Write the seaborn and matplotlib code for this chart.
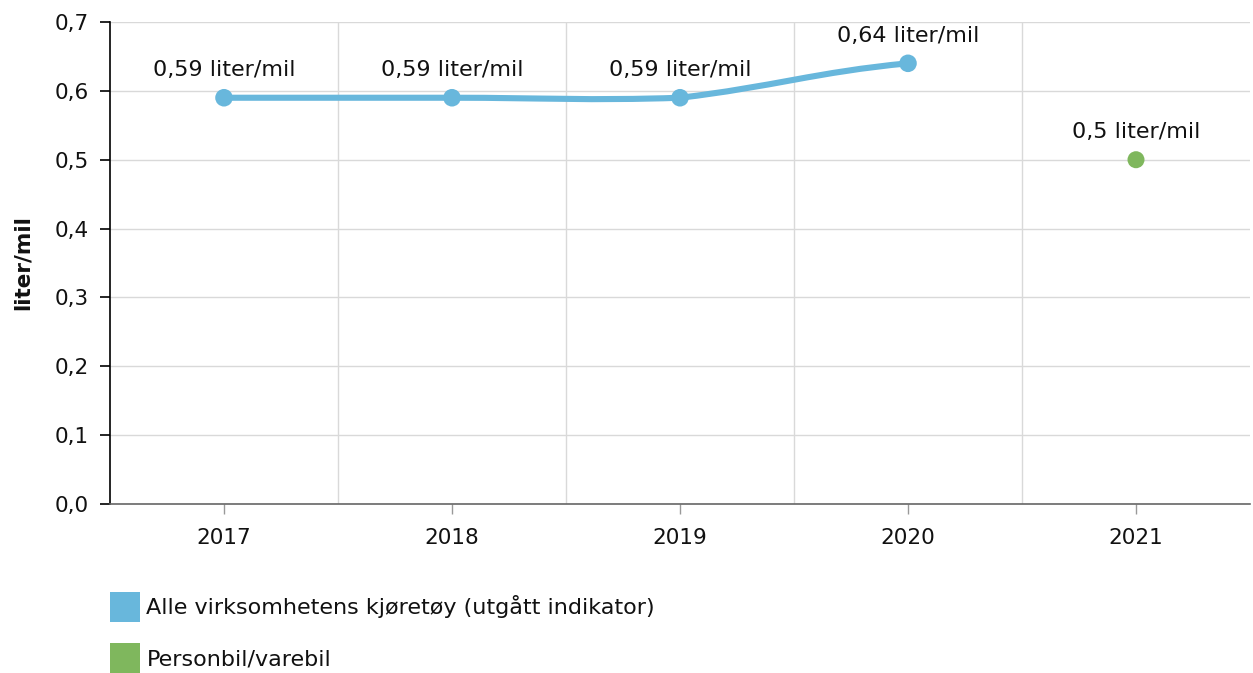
import numpy as np
import matplotlib
matplotlib.use("Agg")
import matplotlib.pyplot as plt
import seaborn as sns
from matplotlib.path import Path
from matplotlib.patches import PathPatch, Patch
from matplotlib.ticker import FixedLocator

# data
years = ["2017", "2018", "2019", "2020", "2021"]
alle_years = ["2017", "2018", "2019", "2020"]
alle_values = [0.59, 0.59, 0.59, 0.64]
person_years = ["2021"]
person_values = [0.5]

blue = "#68b7dc"
green = "#7fb75d"
fs = 15.5

sns.set_theme(style="white")
plt.rcParams["font.family"] = ["DejaVu Sans"]

fig = plt.figure(figsize=(12.53, 6.73), dpi=100)
ax = fig.add_axes([110 / 1253, 1 - 504 / 673, (1250 - 110) / 1253, (504 - 22) / 673])

xa = np.array([years.index(y) for y in alle_years], dtype=float)
ya = np.array(alle_values, dtype=float)

# smooth spline (highcharts-like)
def spline_path(xs, ys, smoothing=1.5):
    denom = smoothing + 1
    n = len(xs)
    left = [None] * n
    right = [None] * n
    for i in range(1, n - 1):
        lx = (smoothing * xs[i] + xs[i - 1]) / denom
        ly = (smoothing * ys[i] + ys[i - 1]) / denom
        rx = (smoothing * xs[i] + xs[i + 1]) / denom
        ry = (smoothing * ys[i] + ys[i + 1]) / denom
        corr = ((ry - ly) * (rx - xs[i])) / (rx - lx) + ys[i] - ry
        ly += corr * 0.45
        ry += corr * 0.45
        left[i] = (lx, ly)
        right[i] = (rx, ry)
    # end points
    dx0 = (xs[1] - xs[0]) / denom
    right[0] = (xs[0] + dx0, ys[0])
    dxn = (xs[-1] - xs[-2]) / denom
    left[-1] = (xs[-1] - dxn, ys[-1] - 0.25 * (ys[-1] - ys[-2]))
    verts = [(xs[0], ys[0])]
    codes = [Path.MOVETO]
    for i in range(1, n):
        verts += [right[i - 1], left[i], (xs[i], ys[i])]
        codes += [Path.CURVE4] * 3
    return Path(verts, codes)

ax.add_patch(PathPatch(spline_path(xa, ya), fill=False, edgecolor=blue,
                       lw=4.4, capstyle="round", joinstyle="round", zorder=3))

sns.scatterplot(x=xa, y=ya, color=blue, s=160, edgecolor="none", zorder=4, ax=ax, legend=False)
xp = np.array([years.index(y) for y in person_years], dtype=float)
sns.scatterplot(x=xp, y=person_values, color=green, s=150, edgecolor="none", zorder=4, ax=ax, legend=False)

for x, v in list(zip(xa, ya)) + list(zip(xp, person_values)):
    ax.annotate(f"{v:g} liter/mil".replace(".", ","), (x, v), xytext=(0, 20),
                textcoords="offset points", ha="center", va="center", fontsize=16, color="#111111")

ax.set_xlim(-0.5, 4.5)
ax.set_ylim(0, 0.7)
ax.set_yticks(np.arange(0, 0.71, 0.1))
ax.set_yticklabels([f"{t:.1f}".replace(".", ",") for t in np.arange(0, 0.71, 0.1)], fontsize=fs, color="#111111")
ax.set_xticks(range(len(years)))
ax.set_xticklabels(years, fontsize=fs, color="#111111")
ax.xaxis.set_minor_locator(FixedLocator([0.5, 1.5, 2.5, 3.5]))
ax.grid(axis="y", color="#d9d9d9", lw=1)
ax.grid(axis="x", which="minor", color="#d9d9d9", lw=1)
ax.set_axisbelow(True)
ax.tick_params(axis="y", which="major", length=7, width=1.2, color="black", left=True, pad=8)
ax.tick_params(axis="x", which="major", length=7, width=1, color="#999999", bottom=True, pad=10)
ax.tick_params(axis="x", which="minor", length=0)
for s in ["top", "right"]:
    ax.spines[s].set_visible(False)
ax.spines["left"].set_color("black")
ax.spines["left"].set_linewidth(1.2)
ax.spines["bottom"].set_color("#666666")
ax.spines["bottom"].set_linewidth(1.2)
ax.set_ylabel("liter/mil", fontsize=fs, fontweight="bold", labelpad=16, color="#111111")

handles = [Patch(facecolor=blue, edgecolor="none"), Patch(facecolor=green, edgecolor="none")]
fig.legend(handles, ["Alle virksomhetens kjøretøy (utgått indikator)", "Personbil/varebil"],
           loc="upper left", bbox_to_anchor=(92 / 1253, 1 - 574 / 673), frameon=False,
           fontsize=16, handlelength=1.35, handleheight=1.7, handletextpad=0.3,
           labelspacing=0.95, borderpad=0.3, labelcolor="#111111")

fig.savefig("out.png", dpi=100)
